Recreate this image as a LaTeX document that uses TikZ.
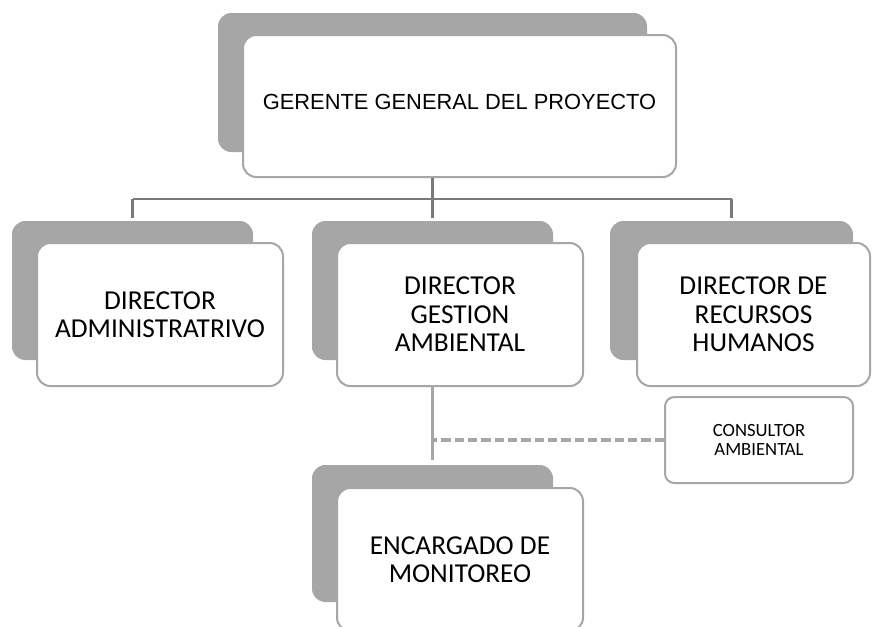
\documentclass[tikz,border=0pt]{standalone}
\usepackage{fontspec}
\setmainfont{Carlito}
\newfontfamily\arialfont{Liberation Sans}
\usetikzlibrary{calc}

\definecolor{sombragris}{RGB}{166,166,166}
\definecolor{bordegris}{RGB}{166,166,166}
\definecolor{lineagris}{RGB}{122,122,122}

\tikzset{
	cargo/.style={draw=bordegris, line width=1.5pt, fill=white, rounded corners=10pt, align=center, inner sep=0pt, text=black},
	sombra/.style={fill=sombragris, rounded corners=10pt, inner sep=0pt},
	linea/.style={draw=lineagris, line width=1.6pt},
	enlace/.style={draw=bordegris, line width=2.4pt, dash pattern=on 7pt off 3pt},
}

\begin{document}
\begin{tikzpicture}[x=0.75pt,y=0.75pt,yscale=-1,xscale=1]
	\useasboundingbox (0,0) rectangle (872,626);
	
	%Sombras
	\node [sombra, minimum width=321.75pt, minimum height=104.25pt] (sombraGerente) at (432.5,82.5) {};
	\node [sombra, minimum width=180.75pt, minimum height=104.25pt] (sombraAdmin) at (132.5,290.5) {};
	\node [sombra, minimum width=180.75pt, minimum height=104.25pt] (sombraAmbiental) at (432.5,290.5) {};
	\node [sombra, minimum width=182.25pt, minimum height=104.25pt] (sombraRRHH) at (731.5,290.5) {};
	\node [sombra, minimum width=180.75pt, minimum height=102.75pt] (sombraMonitoreo) at (432.5,533.5) {};
	
	%Cargos
	\node [cargo, minimum width=324.75pt, minimum height=106.5pt, font=\arialfont\fontsize{16.4}{19}\selectfont] (gerente) at (459.5,106) {\raisebox{6.75pt}{GERENTE GENERAL DEL PROYECTO}};
	\node [cargo, minimum width=184.5pt, minimum height=107.25pt, font=\fontsize{20.5}{21.4}\selectfont] (admin) at (160,314.5) {DIRECTOR\\ADMINISTRATRIVO};
	\node [cargo, minimum width=184.5pt, minimum height=107.25pt, font=\fontsize{20.5}{21.4}\selectfont] (ambiental) at (460,314.5) {DIRECTOR\\GESTION\\AMBIENTAL};
	\node [cargo, minimum width=174.75pt, minimum height=107.25pt, font=\fontsize{20.5}{21.4}\selectfont] (rrhh) at (753.5,314.5) {DIRECTOR DE\\RECURSOS\\HUMANOS};
	\node [cargo, minimum width=184.5pt, minimum height=107.25pt, font=\fontsize{20.5}{21.4}\selectfont] (monitoreo) at (460,559.5) {ENCARGADO DE\\MONITOREO};
	\node [cargo, minimum width=141pt, minimum height=64.5pt, rounded corners=7pt, font=\fontsize{14}{14.3}\selectfont] (consultor) at (759,440) {CONSULTOR\\AMBIENTAL};
	
	%Lineas
	\coordinate (rama) at (432.5,199);
	\draw [linea] (gerente.south -| rama) -- (rama);
	\draw [linea] (sombraAdmin.north |- rama) -- (sombraRRHH.north |- rama);
	\draw [linea] (sombraAdmin.north |- rama) -- ([yshift=-2.25pt]sombraAdmin.north);
	\draw [linea] (rama) -- ([yshift=-2.25pt]sombraAmbiental.north);
	\draw [linea] (sombraRRHH.north |- rama) -- ([yshift=-2.25pt]sombraRRHH.north);
	\draw [linea, draw=bordegris] (ambiental.south -| sombraMonitoreo.north) -- ([yshift=-3.75pt]sombraMonitoreo.north);
	\draw [enlace] (consultor.west) -- (consultor.west -| sombraMonitoreo.north);
	
\end{tikzpicture}
\end{document}
